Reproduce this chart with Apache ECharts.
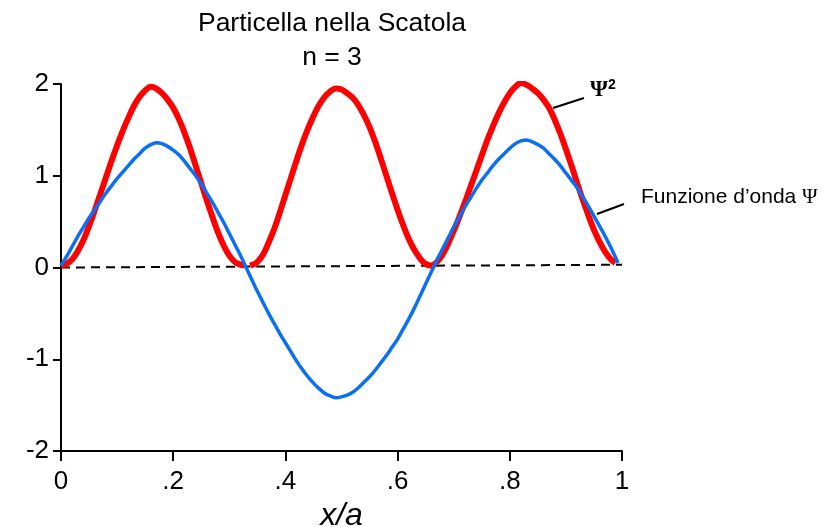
<!DOCTYPE html>
<html>
<head>
<meta charset="utf-8">
<script src="https://cdn.jsdelivr.net/npm/echarts@6/dist/echarts.min.js"></script>
<style>html,body{margin:0;padding:0;background:#fff}#c{width:832px;height:527px}</style>
</head>
<body>
<div id="c"></div>
<script>
// Wave function Psi (x/a, value)
var psiX = [0.00,0.01,0.02,0.03,0.04,0.05,0.06,0.07,0.08,0.09,0.10,0.11,0.12,0.13,0.14,0.15,0.16,0.17,0.18,0.19,
            0.20,0.21,0.22,0.23,0.24,0.25,0.26,0.27,0.28,0.29,0.30,0.31,0.32,0.33,0.34,0.35,0.36,0.37,0.38,0.39,
            0.40,0.41,0.42,0.43,0.44,0.45,0.46,0.47,0.48,0.49,0.50,0.51,0.52,0.53,0.54,0.55,0.56,0.57,0.58,0.59,
            0.60,0.61,0.62,0.63,0.64,0.65,0.66,0.67,0.68,0.69,0.70,0.71,0.72,0.73,0.74,0.75,0.76,0.77,0.78,0.79,
            0.80,0.81,0.82,0.83,0.84,0.85,0.86,0.87,0.88,0.89,0.90,0.91,0.92,0.93,0.94,0.95,0.96,0.97,0.98,0.993];
var psiY = [0.02,0.12,0.23,0.34,0.44,0.54,0.63,0.72,0.81,0.89,0.97,1.04,1.11,1.18,1.24,1.30,1.34,1.36,1.35,1.32,
            1.28,1.23,1.16,1.08,1.00,0.91,0.81,0.71,0.60,0.49,0.37,0.25,0.13,0.00,-0.13,-0.26,-0.38,-0.50,-0.61,-0.72,
            -0.82,-0.92,-1.02,-1.11,-1.19,-1.26,-1.32,-1.37,-1.40,-1.42,-1.41,-1.39,-1.36,-1.31,-1.25,-1.19,-1.12,-1.04,-0.96,-0.87,
            -0.78,-0.67,-0.56,-0.44,-0.31,-0.18,-0.05,0.08,0.20,0.32,0.44,0.55,0.66,0.76,0.86,0.95,1.03,1.11,1.18,1.24,
            1.30,1.35,1.38,1.39,1.37,1.34,1.30,1.24,1.18,1.11,1.03,0.95,0.87,0.77,0.67,0.56,0.45,0.34,0.22,0.05];
// Probability density Psi^2 (null = gap in the drawn curve)
var psi2X = [0.000,0.010,0.020,0.030,0.040,0.050,0.060,0.070,0.080,0.090,0.100,0.110,0.120,0.130,0.140,0.150,0.160,0.170,0.180,0.190,0.200,0.210,0.220,0.230,0.240,0.250,0.260,0.270,0.280,0.290,0.300,0.310,0.320,0.326,
             0.331,
             0.337,0.345,0.350,0.360,0.370,0.380,0.390,0.400,0.410,0.420,0.430,0.440,0.450,0.460,0.470,0.480,0.490,0.500,0.510,0.520,0.530,0.540,0.550,0.560,0.570,0.580,0.590,0.600,0.610,0.620,0.630,0.640,0.650,0.661,
             0.664,0.670,0.680,0.690,0.700,0.710,0.720,0.730,0.740,0.750,0.760,0.770,0.780,0.790,0.800,0.810,0.820,0.830,0.840,0.850,0.860,0.870,0.880,0.890,0.900,0.910,0.920,0.930,0.940,0.950,0.960,0.970,0.980,0.988];
var psi2Y = [0.02,0.04,0.09,0.18,0.30,0.45,0.62,0.80,0.98,1.16,1.33,1.49,1.63,1.76,1.86,1.93,1.97,1.95,1.90,1.83,1.74,1.62,1.47,1.30,1.11,0.92,0.73,0.55,0.38,0.24,0.13,0.06,0.03,0.02,
             null,
             0.02,0.04,0.06,0.14,0.27,0.42,0.60,0.79,0.98,1.17,1.35,1.51,1.65,1.77,1.86,1.92,1.95,1.94,1.90,1.85,1.77,1.66,1.53,1.37,1.19,1.00,0.81,0.63,0.46,0.31,0.19,0.10,0.04,0.02,
             0.03,0.06,0.14,0.26,0.40,0.55,0.71,0.88,1.05,1.22,1.39,1.54,1.68,1.80,1.90,1.97,2.01,1.99,1.95,1.90,1.83,1.74,1.61,1.46,1.29,1.11,0.92,0.74,0.57,0.41,0.28,0.17,0.09,0.05];
// Zero reference (dashed)
var zeroX = [0, 1];
var zeroY = [0, 0.03];
var xTicks = [0, 0.2, 0.4, 0.6, 0.8, 1];
var xTickLabels = ['0', '.2', '.4', '.6', '.8', '1'];

function zip(xs, ys){ return xs.map(function(x,i){ return [x, ys[i]]; }); }

var chart = echarts.init(document.getElementById('c'), null, {renderer:'canvas'});
var narrow = "'Liberation Sans Narrow','Liberation Sans',Arial,sans-serif";
var sans = "'Liberation Sans',Arial,sans-serif";
var serif = "'Liberation Serif','DejaVu Serif',serif";
chart.setOption({
  animation: false,
  backgroundColor: '#fff',
  title: {
    text: 'Particella nella Scatola\nn = 3',
    left: 327, top: 2, textAlign: 'center',
    textStyle: {fontFamily: sans, fontSize: 26.5, fontWeight: 'normal', color: '#000', lineHeight: 34}
  },
  grid: {left: 61, right: 210, top: 84, bottom: 76, containLabel: false, outerBoundsMode: 'none'},
  xAxis: {
    type: 'value', min: 0, max: 1, interval: 0.2,
    name: 'x/a', nameLocation: 'middle', nameGap: 46,
    nameTextStyle: {fontFamily: sans, fontSize: 32, fontStyle: 'italic', color: '#000'},
    axisLine: {onZero: false, lineStyle: {color: '#000', width: 2}},
    axisTick: {show: true, length: 10, lineStyle: {color: '#000', width: 2}},
    axisLabel: {margin: 18, fontFamily: narrow, fontSize: 26, color: '#000',
      formatter: function(v){ var i = xTicks.indexOf(Math.round(v*10)/10); return i >= 0 ? xTickLabels[i] : ''; }},
    splitLine: {show: false}
  },
  yAxis: {
    type: 'value', min: -2, max: 2, interval: 1,
    axisLine: {show: true, lineStyle: {color: '#000', width: 2}},
    axisTick: {show: true, length: 8, lineStyle: {color: '#000', width: 2}},
    axisLabel: {margin: 12, fontFamily: narrow, fontSize: 26, color: '#000'},
    splitLine: {show: false}
  },
  series: [
    {type: 'line', data: zip(zeroX, zeroY), symbol: 'none', silent: true,
     lineStyle: {color: '#000', width: 2, type: [9, 6]}, z: 1},
    {type: 'line', name: 'Psi2', data: zip(psi2X, psi2Y), symbol: 'none', smooth: 0.4, connectNulls: false,
     lineStyle: {color: '#ff0000', width: 6}, z: 2},
    {type: 'line', name: 'Psi', data: zip(psiX, psiY), symbol: 'none', smooth: 0.3,
     lineStyle: {color: '#0a6ff5', width: 3.5}, z: 3}
  ],
  graphic: [
    {type: 'line', shape: {x1: 553, y1: 108, x2: 584, y2: 98}, style: {stroke: '#000', lineWidth: 2}},
    {type: 'text', left: 590, top: 78, style: {
      text: '{p|Ψ}{s|2}', rich: {
        p: {fontFamily: serif, fontWeight: 'bold', fontSize: 23, fill: '#000'},
        s: {fontFamily: sans, fontWeight: 'bold', fontSize: 14, fill: '#000', verticalAlign: 'top', padding: [0,0,10,0]}
      }}},
    {type: 'line', shape: {x1: 597, y1: 214, x2: 624, y2: 204}, style: {stroke: '#000', lineWidth: 2}},
    {type: 'text', left: 641, top: 187, style: {
      text: '{a|Funzione d’onda }{b|Ψ}', rich: {
        a: {fontFamily: sans, fontSize: 21, fill: '#000'},
        b: {fontFamily: serif, fontSize: 21, fill: '#000'}
      }}}
  ]
});
</script>
</body>
</html>
